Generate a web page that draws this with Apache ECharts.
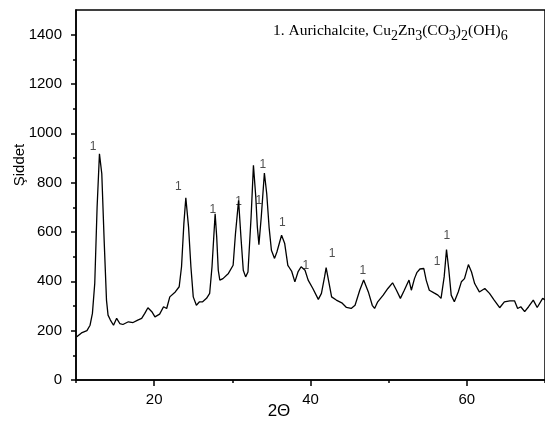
<!DOCTYPE html>
<html>
<head>
<meta charset="utf-8">
<script src="https://cdn.jsdelivr.net/npm/echarts@6/dist/echarts.min.js"></script>
<style>html,body{margin:0;padding:0;background:#fff}#c{width:545px;height:423px}</style>
</head>
<body>
<div id="c"></div>
<script>
// ---- data ----
const twoTheta = [10.1,10.7,11.4,11.8,12.1,12.4,12.7,13.0,13.3,13.6,13.9,14.1,14.4,14.8,15.2,15.6,16.0,16.7,17.3,17.9,18.4,18.8,19.2,19.7,20.1,20.7,21.2,21.6,22.0,22.7,23.2,23.5,23.8,24.05,24.4,24.7,25.0,25.4,25.8,26.2,26.7,27.1,27.4,27.8,28.0,28.2,28.4,28.8,29.5,30.1,30.4,30.8,31.1,31.4,31.7,32.0,32.4,32.7,33.0,33.2,33.4,33.7,34.1,34.4,34.7,35.0,35.4,35.7,36.3,36.7,37.1,37.3,37.6,38.0,38.4,38.8,39.3,39.7,40.3,41.0,41.4,41.8,42.0,42.3,42.7,43.3,44.0,44.6,45.2,45.7,46.3,46.8,47.4,47.9,48.2,48.6,49.3,49.9,50.5,51.0,51.5,52.0,52.6,52.9,53.3,53.6,54.0,54.5,54.8,55.2,55.8,56.3,56.7,57.1,57.4,57.7,58.0,58.4,58.9,59.3,59.7,60.2,60.6,61.0,61.6,62.3,62.9,63.5,64.2,64.8,65.5,66.1,66.5,66.9,67.4,67.9,68.5,69.0,69.7,70.0];
const intensity = [175,191,200,222,270,392,701,917,836,567,324,263,243,222,250,229,225,236,233,243,250,270,293,277,256,267,297,290,337,357,378,459,634,739,620,459,337,303,317,317,331,351,459,674,580,445,405,411,432,465,593,728,580,445,418,438,661,870,742,620,549,661,839,755,620,526,493,519,587,553,465,455,440,398,438,459,445,405,371,327,351,418,456,405,337,324,313,294,290,303,364,405,357,303,290,317,344,371,394,364,331,364,405,364,411,435,450,452,405,364,353,344,331,418,529,445,344,317,357,398,411,468,438,391,357,371,351,324,293,317,321,321,290,297,277,297,324,294,331,325];
const peakLabelX = [12.2,23.1,27.5,30.8,33.4,33.9,36.4,39.4,42.75,46.7,56.2,57.45];
const peakLabelY = [944,782,691,722,726,874,637,465,513,442,479,587];
const peakLabelText = ['1','1','1','1','1','1','1','1','1','1','1','1'];
const xMajorTicks = [20,40,60];
const xMinorTicks = [10,30,50,70];
const yMajorTicks = [0,200,400,600,800,1000,1200,1400];
const yMinorTicks = [100,300,500,700,900,1100,1300];
const titlePieces = [['1. Aurichalcite, Cu',0],['2',1],['Zn',0],['3',1],['(CO',0],['3',1],[')',0],['2',1],['(OH)',0],['6',1]];
const xName = '2\u0398';
const yName = '\u015Eiddet';

// ---- chart ----
const chart = echarts.init(document.getElementById('c'), null, {renderer:'canvas'});
const sans = '"Liberation Sans", Arial, sans-serif';
const serif = '"Liberation Serif", "Times New Roman", serif';

// title pieces layout (measured)
const cv = document.createElement('canvas').getContext('2d');
const mainFont = 15.5, subFont = 14;
let tx = 273;
const titleEls = titlePieces.map(([t, sub]) => {
  const fs = sub ? subFont : mainFont;
  cv.font = fs + 'px ' + serif;
  const w = cv.measureText(t).width;
  const el = {type:'text', left: tx, top: sub ? 29 : 23, style:{text:t, font: fs + 'px ' + serif, fill:'#000'}, silent:true};
  tx += w;
  return el;
});

const axisLineStyle = {color:'#000', width:1.5};
const plain = (v) => String(v);
chart.setOption({
  animation:false,
  backgroundColor:'#fff',
  grid:{left:76, right:0, top:10, bottom:43, show:true, borderColor:'#000', borderWidth:1.5, backgroundColor:'transparent'},
  xAxis:[
    {type:'value', min:10, max:70, position:'bottom', splitLine:{show:false},
     axisLine:{show:true, onZero:false, lineStyle:axisLineStyle},
     axisTick:{show:true, customValues:xMajorTicks, length:6, lineStyle:axisLineStyle},
     axisLabel:{customValues:xMajorTicks, formatter:plain, color:'#000', fontFamily:sans, fontSize:15, margin:12}},
    {type:'value', min:10, max:70, position:'bottom', splitLine:{show:false},
     axisLine:{show:false, onZero:false},
     axisTick:{show:true, customValues:xMinorTicks, length:3, lineStyle:axisLineStyle},
     axisLabel:{show:false}}
  ],
  yAxis:[
    {type:'value', min:0, max:1500, position:'left', splitLine:{show:false},
     axisLine:{show:true, onZero:false, lineStyle:axisLineStyle},
     axisTick:{show:true, customValues:yMajorTicks, length:5, lineStyle:axisLineStyle},
     axisLabel:{customValues:yMajorTicks, formatter:plain, color:'#000', fontFamily:sans, fontSize:15, margin:14}},
    {type:'value', min:0, max:1500, position:'left', splitLine:{show:false},
     axisLine:{show:false, onZero:false},
     axisTick:{show:true, customValues:yMinorTicks, length:3, lineStyle:axisLineStyle},
     axisLabel:{show:false}}
  ],
  series:[
    {type:'line', xAxisIndex:0, yAxisIndex:0, showSymbol:false, symbol:'none',
     lineStyle:{color:'#000', width:1.3}, data: twoTheta.map((x,i)=>[x, intensity[i]])},
    {type:'scatter', xAxisIndex:0, yAxisIndex:0, symbolSize:0,
     label:{show:true, position:'inside', color:'#222', fontFamily:sans, fontSize:12,
            formatter:(p)=>peakLabelText[p.dataIndex]},
     data: peakLabelX.map((x,i)=>[x, peakLabelY[i]])}
  ],
  graphic:[
    ...titleEls,
    {type:'text', x:279, y:411, style:{text:xName, font:'17px ' + sans, fill:'#000', align:'center', verticalAlign:'middle'}, silent:true},
    {type:'text', x:20, y:165, rotation:Math.PI/2, style:{text:yName, font:'15px ' + sans, fill:'#000', align:'center', verticalAlign:'middle'}, silent:true}
  ]
});
</script>
</body>
</html>
